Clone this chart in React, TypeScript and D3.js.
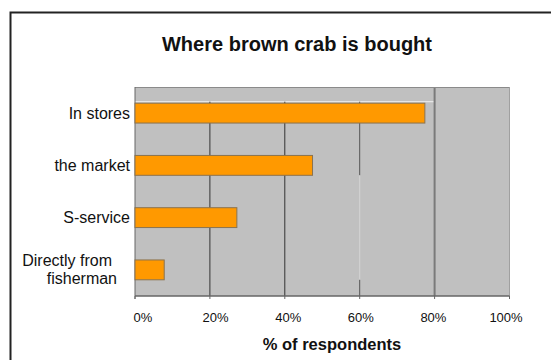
import React from "react";
import * as d3 from "d3";

const categories = ["In stores", "the market", "S-service", "Directly from fisherman"];
const values = [77.4, 47.4, 27.2, 7.8];
const tickValues = [0, 20, 40, 60, 80, 100];
const tickLabels = ["0%", "20%", "40%", "60%", "80%", "100%"];
const title = "Where brown crab is bought";
const xTitle = "% of respondents";

const W = 551;
const H = 360;
const plot = { left: 135, right: 509.5, top: 87, bottom: 296 };

export default function App() {
  const x = d3.scaleLinear().domain([0, 100]).range([plot.left, plot.right]);
  const labelX = d3.scaleLinear().domain([0, 100]).range([143, 506]);
  const y = d3
    .scaleBand<string>()
    .domain(categories)
    .range([plot.top, plot.bottom])
    .paddingInner(0.62)
    .paddingOuter(0.31);
  const bw = y.bandwidth();
  const stripBottom = (y(categories[0]) as number) - 1.5;
  const font = "'Liberation Sans', Arial, sans-serif";

  return (
    <svg
      width={W}
      height={H}
      style={{ position: "absolute", left: 0, top: 0, background: "#fff" }}
      fontFamily={font}
    >
      {/* outer frame */}
      <rect x={10.5} y={12.5} width={700} height={500} fill="none" stroke="#222" strokeWidth={2} />
      <text x={297} y={51} textAnchor="middle" fontSize={20} fontWeight="bold" fill="#111">
        {title}
      </text>

      {/* plot background */}
      <rect
        x={plot.left}
        y={plot.top}
        width={plot.right - plot.left}
        height={plot.bottom - plot.top}
        fill="#c0c0c0"
      />
      {/* light line under top strip */}
      <line x1={plot.left} x2={x(80)} y1={stripBottom} y2={stripBottom} stroke="#e6e6e6" strokeWidth={1.2} />

      {/* gridlines */}
      {tickValues
        .filter((t) => t > 0 && t < 80)
        .map((t) =>
          t === 60 ? (
            <g key={t}>
              <line
                x1={x(t)}
                x2={x(t)}
                y1={stripBottom}
                y2={(y(categories[1]) as number) + bw}
                stroke="#555"
                strokeWidth={1}
              />
              <line
                x1={x(t)}
                x2={x(t)}
                y1={(y(categories[1]) as number) + bw}
                y2={(y(categories[3]) as number) + bw}
                stroke="#d4d4d4"
                strokeWidth={1}
              />
              <line
                x1={x(t)}
                x2={x(t)}
                y1={(y(categories[3]) as number) + bw}
                y2={plot.bottom}
                stroke="#555"
                strokeWidth={1}
              />
            </g>
          ) : (
            <line key={t} x1={x(t)} x2={x(t)} y1={stripBottom} y2={plot.bottom} stroke="#333" strokeWidth={1} />
          )
        )}
      <line x1={x(80)} x2={x(80)} y1={plot.top} y2={plot.bottom} stroke="#7a7a7a" strokeWidth={2} />

      {/* plot border */}
      <line x1={plot.left} x2={plot.right} y1={plot.top + 0.5} y2={plot.top + 0.5} stroke="#8a8a8a" strokeWidth={1.2} />
      <line x1={plot.right} x2={plot.right} y1={plot.top} y2={plot.bottom} stroke="#a0a0a0" strokeWidth={1} />
      <line x1={plot.left} x2={plot.left} y1={plot.top} y2={plot.bottom + 3} stroke="#666" strokeWidth={1} />
      <line x1={plot.left} x2={plot.right} y1={plot.bottom} y2={plot.bottom} stroke="#666" strokeWidth={1.5} />

      {/* ticks */}
      {tickValues.map((t) => (
        <line key={"tk" + t} x1={x(t)} x2={x(t)} y1={plot.bottom} y2={plot.bottom + 3} stroke="#666" strokeWidth={1} />
      ))}

      {/* bars */}
      {categories.map((c, i) => (
        <g key={c}>
          <rect
            x={x(0)}
            y={y(c) as number}
            width={x(values[i]) - x(0)}
            height={bw}
            fill="#ff9900"
            stroke="#8a7350"
            strokeWidth={1}
          />
        </g>
      ))}

      {/* category labels */}
      {categories.map((c) => {
        const cy = (y(c) as number) + bw / 2;
        if (c === "Directly from fisherman") {
          return (
            <g key={"l" + c}>
              <text x={112} y={cy - 3.5} textAnchor="end" fontSize={16} fill="#111">
                Directly from
              </text>
              <text x={117} y={cy + 14.5} textAnchor="end" fontSize={16} fill="#111">
                fisherman
              </text>
            </g>
          );
        }
        return (
          <text key={"l" + c} x={130} y={cy + 5.5} textAnchor="end" fontSize={16} fill="#111">
            {c}
          </text>
        );
      })}

      {/* x tick labels */}
      {tickValues.map((t, i) => (
        <text key={"xl" + t} x={labelX(t)} y={321.5} textAnchor="middle" fontSize={13} fill="#111">
          {tickLabels[i]}
        </text>
      ))}
      <text x={332} y={350} textAnchor="middle" fontSize={16.5} fontWeight="bold" fill="#111">
        {xTitle}
      </text>
    </svg>
  );
}
